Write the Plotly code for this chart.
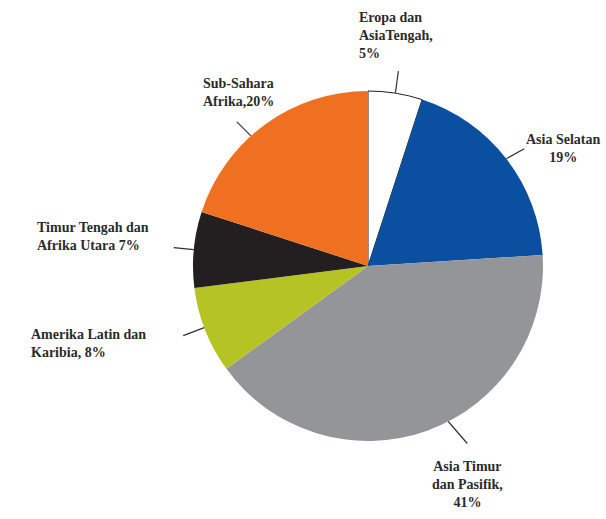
import math
import plotly.graph_objects as go

# Regional shares, clockwise from 12 o'clock
regions = ["Eropa dan AsiaTengah", "Asia Selatan", "Asia Timur dan Pasifik",
           "Amerika Latin dan Karibia", "Timur Tengah dan Afrika Utara", "Sub-Sahara Afrika"]
shares = [5, 19, 41, 8, 7, 20]
label_texts = ["Eropa dan<br>AsiaTengah,<br>5%", "Asia Selatan<br>19%",
               "Asia Timur<br>dan Pasifik,<br>41%", "Amerika Latin dan<br>Karibia, 8%",
               "Timur Tengah dan<br>Afrika Utara 7%", "Sub-Sahara<br>Afrika,20%"]
colors = ["#ffffff", "#0a4fa0", "#939598", "#b5c424", "#231f20", "#f07022"]

W, H = 606, 519
CX, CY, R = 368, 266, 175  # pie centre and radius in pixels

fig = go.Figure(go.Pie(
    labels=regions, values=shares, sort=False, direction="clockwise", rotation=0,
    marker=dict(colors=colors, line=dict(color=["#231f20"] + ["rgba(0,0,0,0)"] * 5,
                                         width=[1, 0, 0, 0, 0, 0])),
    textinfo="none", hoverinfo="label+percent", showlegend=False,
    domain=dict(x=[(CX - R) / W, (CX + R) / W], y=[1 - (CY + R) / H, 1 - (CY - R) / H]),
))

# text placement (pixel anchor, alignment) for each label
label_pos = [(357, 8, "left", "left"), (563, 130, "center", "center"),
             (467, 457, "center", "center"), (29, 325, "left", "left"),
             (35, 218, "left", "left"), (238, 74, "center", "left")]
# leader lines: angular shift of the start from the slice middle (deg), then pixel vector
leaders = [(0, 3, -22), (0, 18, -10), (-7.5, 19, 22), (1, -21, 8), (0, -20, -2), (-6, -14, -14)]

font = dict(family="Liberation Serif", size=14, color="#2b2b2b")
shapes, annotations = [], []
total = sum(shares)
cum = 0
for v, txt, (lx, ly, xa, al), (shift, dx, dy) in zip(shares, label_texts, label_pos, leaders):
    mid = (cum + v / 2) / total * 2 * math.pi + math.radians(shift)
    cum += v
    x0 = CX + R * math.sin(mid)
    y0 = CY - R * math.cos(mid)
    shapes.append(dict(type="line", xref="paper", yref="paper",
                       x0=x0 / W, y0=1 - y0 / H, x1=(x0 + dx) / W, y1=1 - (y0 + dy) / H,
                       line=dict(color="#333333", width=1.2)))
    annotations.append(dict(text="<b>" + txt + "</b>", xref="paper", yref="paper",
                            x=lx / W, y=1 - ly / H, xanchor=xa, yanchor="top",
                            align=al, showarrow=False, font=font))

fig.update_layout(width=W, height=H, margin=dict(l=0, r=0, t=0, b=0),
                  paper_bgcolor="white", plot_bgcolor="white",
                  shapes=shapes, annotations=annotations)
fig.write_html("out.html")
